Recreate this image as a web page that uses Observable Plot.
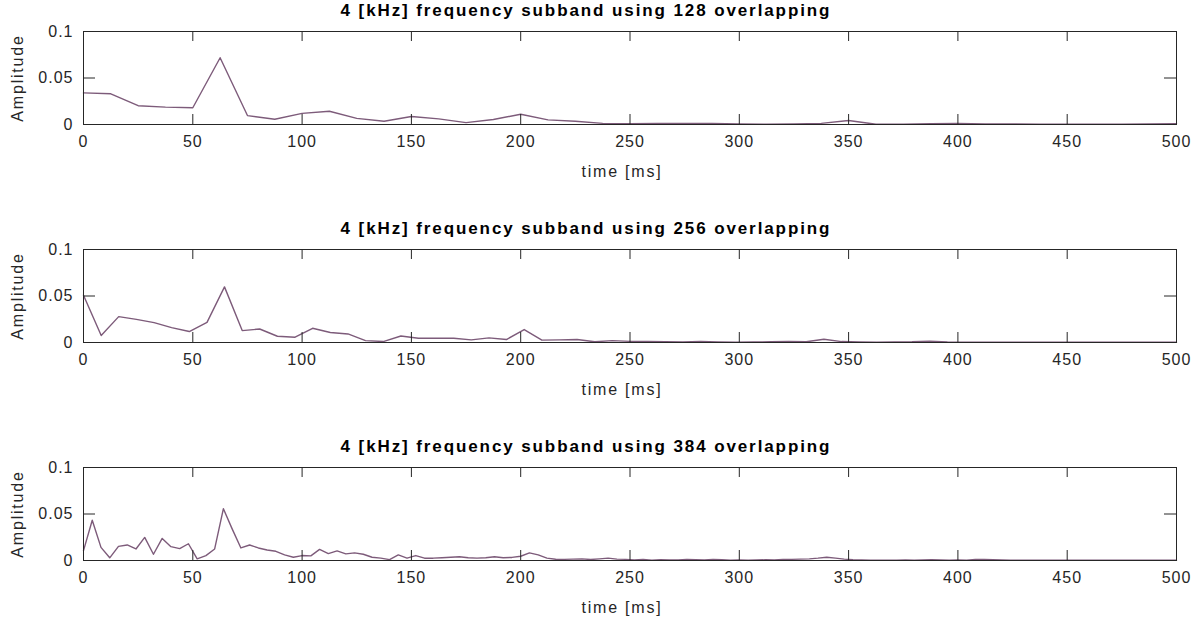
<!DOCTYPE html>
<html>
<head>
<meta charset="utf-8">
<script src="https://cdn.jsdelivr.net/npm/d3@7"></script>
<script src="https://cdn.jsdelivr.net/npm/@observablehq/plot@0.6"></script>
<style>
  html, body { margin: 0; padding: 0; background: #fff; }
  #chart { width: 1204px; height: 619px; position: relative; }
  #chart svg { display: block; }
</style>
</head>
<body>
<div id="chart"></div>
<script>
// ---- Data ----
const titles = [
  "4 [kHz] frequency subband using 128 overlapping",
  "4 [kHz] frequency subband using 256 overlapping",
  "4 [kHz] frequency subband using 384 overlapping"
];
const xTicks = [0, 50, 100, 150, 200, 250, 300, 350, 400, 450, 500];
const yTicks = [0, 0.05, 0.1];
const yTickLabels = ["0", "0.05", "0.1"];
const xLabel = "time [ms]";
const yLabel = "Amplitude";

// 128 overlapping
const time128 = [0, 12.5, 25, 37.5, 50, 62.5, 75, 87.5, 100, 112.5, 125, 137.5, 150, 162.5, 175, 187.5,
  200, 212.5, 225, 237.5, 250, 262.5, 275, 287.5, 300, 312.5, 325, 337.5, 350, 362.5, 375, 387.5,
  400, 412.5, 425, 437.5, 450, 462.5, 475, 487.5, 500];
const amp128 = [0.034, 0.033, 0.0202, 0.0187, 0.018, 0.0718, 0.0096, 0.0057, 0.012, 0.0143, 0.0066,
  0.0035, 0.0086, 0.006, 0.002, 0.0054, 0.011, 0.005, 0.0035, 0.0012, 0.0008, 0.001, 0.0012, 0.001,
  0.0005, 0.0003, 0.0006, 0.0012, 0.0043, 0.0002, 0.0004, 0.0008, 0.001, 0.0006, 0.0005, 0.0003,
  0.0002, 0.0003, 0.0004, 0.0006, 0.0008];

// 256 overlapping
const time256 = [0, 8.1, 16.1, 24.2, 32.3, 40.3, 48.4, 56.5, 64.5, 72.6, 80.6, 88.7, 96.8, 104.8, 112.9,
  121, 129, 137.1, 145.2, 153.2, 161.3, 169.4, 177.4, 185.5, 193.5, 201.6, 209.7, 217.7, 225.8, 233.9,
  241.9, 250, 258.1, 266.1, 274.2, 282.3, 290.3, 298.4, 306.5, 314.5, 322.6, 330.6, 338.7, 346.8, 354.8,
  362.9, 371, 379, 387.1, 395.2, 403.2, 411.3, 419.4, 427.4, 435.5, 443.5, 451.6, 459.7, 467.7, 475.8,
  483.9, 491.9, 500];
const amp256 = [0.0509, 0.0075, 0.0278, 0.0249, 0.0214, 0.016, 0.0118, 0.0217, 0.0598, 0.0128, 0.0145,
  0.0067, 0.0057, 0.0153, 0.0107, 0.0092, 0.002, 0.001, 0.007, 0.0046, 0.0046, 0.0046, 0.0028, 0.005,
  0.0032, 0.0139, 0.0025, 0.0028, 0.0032, 0.0008, 0.002, 0.0012, 0.0012, 0.0008, 0.0005, 0.0012, 0.0006,
  0.0004, 0.0006, 0.0008, 0.0012, 0.0008, 0.0035, 0.001, 0.0005, 0.0004, 0.0006, 0.0008, 0.0015, 0.0006,
  0.0004, 0.0003, 0.0003, 0.0002, 0.0003, 0.0002, 0.0002, 0.0003, 0.0002, 0.0003, 0.0002, 0.0003, 0.0002];

// 384 overlapping
const time384 = [0, 4, 8, 12, 16, 20, 24, 28, 32, 36, 40, 44, 48, 52, 56, 60, 64, 68, 72, 76, 80, 84, 88,
  92, 96, 100, 104, 108, 112, 116, 120, 124, 128, 132, 136, 140, 144, 148, 152, 156, 160, 164, 168, 172,
  176, 180, 184, 188, 192, 196, 200, 204, 208, 212, 216, 220, 224, 228, 232, 236, 240, 244, 248, 252, 256,
  260, 264, 268, 272, 276, 280, 284, 288, 292, 296, 300, 304, 308, 312, 316, 320, 324, 328, 332, 336, 340,
  344, 348, 352, 356, 360, 364, 368, 372, 376, 380, 384, 388, 392, 396, 400, 404, 408, 412, 416, 420, 424,
  428, 432, 436, 440, 444, 448, 452, 456, 460, 464, 468, 472, 476, 480, 484, 488, 492, 496, 500];
const amp384 = [0.0106, 0.0433, 0.0141, 0.0029, 0.0152, 0.0167, 0.0124, 0.0248, 0.0067, 0.0237, 0.0149,
  0.0128, 0.018, 0.0018, 0.0053, 0.0124, 0.0557, 0.034, 0.0135, 0.0167, 0.0135, 0.0113, 0.0099, 0.006,
  0.0035, 0.0053, 0.005, 0.012, 0.0074, 0.0103, 0.0071, 0.0082, 0.0067, 0.0035, 0.0025, 0.001, 0.006,
  0.0025, 0.0053, 0.0025, 0.0025, 0.003, 0.0035, 0.004, 0.003, 0.0025, 0.003, 0.004, 0.003, 0.0033,
  0.0046, 0.0082, 0.006, 0.0025, 0.0014, 0.0012, 0.0015, 0.0018, 0.001, 0.0018, 0.0025, 0.0015, 0.0012,
  0.0006, 0.001, 0.0004, 0.0008, 0.0006, 0.0005, 0.001, 0.0008, 0.0006, 0.0012, 0.0008, 0.0004, 0.0006,
  0.0003, 0.0005, 0.0008, 0.0006, 0.001, 0.0012, 0.0015, 0.0018, 0.0025, 0.0035, 0.0025, 0.0015, 0.0008,
  0.0006, 0.0004, 0.0003, 0.0004, 0.0003, 0.0005, 0.0004, 0.0006, 0.0008, 0.0006, 0.0004, 0.0005, 0.0003,
  0.001, 0.0012, 0.0008, 0.0005, 0.0003, 0.0002, 0.0003, 0.0002, 0.0002, 0.0003, 0.0002, 0.0002, 0.0003,
  0.0002, 0.0002, 0.0003, 0.0002, 0.0002, 0.0003, 0.0002, 0.0002, 0.0003, 0.0002, 0.0002];

const series = [
  {title: titles[0], time: time128, amp: amp128},
  {title: titles[1], time: time256, amp: amp256},
  {title: titles[2], time: time384, amp: amp384}
];

// ---- Layout ----
const W = 1204, H = 218;
const mL = 83, mR = 28, mT = 31, mB = 94;
const plotW = W - mL - mR, plotH = H - mT - mB;
const xTickLen = 10, yTickLen = 12;
const axisColor = "#262626";
const lineColor = "#7d5b7a";
const font = "'Liberation Sans', Helvetica, Arial, sans-serif";

const root = document.getElementById("chart");
series.forEach((s) => {
  const data = s.time.map((t, i) => ({t, a: s.amp[i]}));
  const chart = Plot.plot({
    width: W, height: H,
    marginLeft: mL, marginRight: mR, marginTop: mT, marginBottom: mB,
    style: {fontFamily: font, fontSize: "16px", color: axisColor, background: "#fff"},
    x: {domain: [0, 500]},
    y: {domain: [0, 0.1]},
    marks: [
      Plot.line(data, {x: "t", y: "a", stroke: lineColor, strokeWidth: 1.4}),
      Plot.frame({stroke: axisColor, strokeWidth: 1}),
      // inward ticks
      Plot.ruleX(xTicks, {stroke: axisColor, insetBottom: plotH - xTickLen}),
      Plot.ruleX(xTicks, {stroke: axisColor, insetTop: plotH - xTickLen}),
      Plot.ruleY(yTicks, {stroke: axisColor, insetRight: plotW - yTickLen}),
      Plot.ruleY(yTicks, {stroke: axisColor, insetLeft: plotW - yTickLen}),
      Plot.axisX(xTicks, {tickSize: 0, tickPadding: 11, fontSize: 16, fill: axisColor,
        label: xLabel, labelAnchor: "center", labelOffset: 52, labelArrow: "none"}),
      Plot.axisY(yTicks, {tickSize: 0, tickPadding: 10, fontSize: 16, fill: axisColor,
        tickFormat: (d) => yTickLabels[yTicks.indexOf(d)],
        label: yLabel, labelAnchor: "center", labelOffset: 72, labelArrow: "none"}),
      Plot.text([s.title], {frameAnchor: "top", dy: -21, dx: -44, fontWeight: "bold", fontSize: 17,
        fill: "#000", lineAnchor: "middle"})
    ]
  });
  const svg = d3.select(chart);
  svg.selectAll("g[aria-label='x-axis tick label'] text, g[aria-label='y-axis tick label'] text")
    .style("font-size", "16px").style("letter-spacing", "1px");
  svg.selectAll("g[aria-label='x-axis label'] text, g[aria-label='y-axis label'] text")
    .style("font-size", "16px").style("letter-spacing", "1.8px").style("fill", axisColor);
  svg.selectAll("g[aria-label='x-axis label'] text").attr("dx", -8);
  svg.selectAll("g[aria-label='text'] text")
    .style("letter-spacing", "1.9px");
  root.appendChild(chart);
});
</script>
</body>
</html>
